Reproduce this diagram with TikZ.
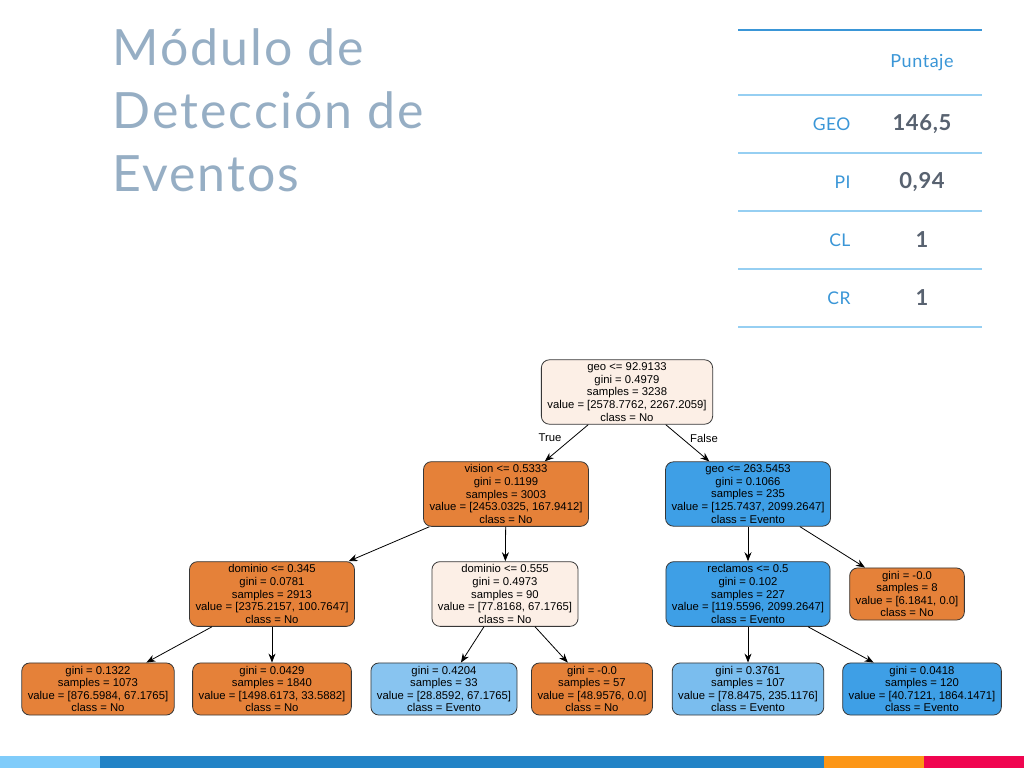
\documentclass[tikz,border=0pt]{standalone}
\usepackage{fontspec}
\usepackage{xcolor}
\usepackage{tikz}
\usetikzlibrary{positioning,arrows.meta}
\newfontfamily\treefont{Liberation Sans}
\newfontfamily\slidefont[LetterSpace=3]{Lato}
\newfontfamily\titlefont[LetterSpace=4]{Lato}
\definecolor{titlegray}{RGB}{150,174,196}
\definecolor{tablue}{RGB}{58,150,215}
\definecolor{rulelight}{RGB}{150,207,242}
\definecolor{valgray}{RGB}{88,98,112}
\definecolor{leafor}{RGB}{229,129,57}
\definecolor{peach}{RGB}{252,239,230}
\definecolor{leafbl}{RGB}{62,159,230}
\definecolor{paleblue}{RGB}{136,196,240}
\definecolor{midblue}{RGB}{122,189,238}
\definecolor{edgegray}{RGB}{55,55,55}
\definecolor{bandlight}{RGB}{128,204,250}
\definecolor{bandblue}{RGB}{34,131,198}
\definecolor{bandorange}{RGB}{252,150,22}
\definecolor{bandpink}{RGB}{240,5,80}

\begin{document}
\begin{tikzpicture}[x=1pt, y=-1pt,
  split/.style={draw=edgegray, line width=0.8pt, rounded corners=8pt,
    font=\treefont\fontsize{11.3}{12.6}\selectfont, align=center,
    inner xsep=6pt, inner ysep=3pt},
  orange/.style={split, fill=leafor},
  light/.style={split, fill=peach},
  blue/.style={split, fill=leafbl},
  arr/.style={-{Stealth[length=9pt,width=7pt]}, line width=0.8pt, black},
  rowlab/.style={font=\slidefont\fontsize{17.5}{20}\selectfont, text=tablue, anchor=east},
  rowval/.style={font=\slidefont\bfseries\fontsize{22}{26}\selectfont, text=valgray},
]
  \useasboundingbox[fill=white] (0,0) rectangle (1024,768);

  % title
  \node[font=\titlefont\fontsize{50}{63}\selectfont, text=titlegray, align=left,
    anchor=north west] (title) at (109,25) {Módulo de\\Detección de\\Eventos};

  % score table
  \draw[tablue, line width=1.6pt] (738,30) -- (982,30);
  \foreach \yy in {95,153,211,269,327}
    \draw[rulelight, line width=1.2pt] (738,\yy) -- (982,\yy);
  \node[font=\slidefont\fontsize{18}{20}\selectfont, text=tablue] (head) at (922,63) {Puntaje};
  \node[rowlab] (geo) at (854,124) {GEO};
  \node[rowval] (geov) at (922,124) {146,5};
  \node[rowlab] (pi) at (854,182) {PI};
  \node[rowval] (piv) at (922,182) {0,94};
  \node[rowlab] (cl) at (854,240) {CL};
  \node[rowval] (clv) at (922,240) {1};
  \node[rowlab] (cr) at (854,298) {CR};
  \node[rowval] (crv) at (922,298) {1};

  % decision tree
  \node[light] (root) at (627,392) {geo <= 92.9133\\gini = 0.4979\\samples = 3238\\value = [2578.7762, 2267.2059]\\class = No};
  \node[orange] (vision) at (506,494) {vision <= 0.5333\\gini = 0.1199\\samples = 3003\\value = [2453.0325, 167.9412]\\class = No};
  \node[blue] (geohi) at (748,494) {geo <= 263.5453\\gini = 0.1066\\samples = 235\\value = [125.7437, 2099.2647]\\class = Evento};
  \node[orange] (domA) at (272,594) {dominio <= 0.345\\gini = 0.0781\\samples = 2913\\value = [2375.2157, 100.7647]\\class = No};
  \node[light] (domB) at (505,594) {dominio <= 0.555\\gini = 0.4973\\samples = 90\\value = [77.8168, 67.1765]\\class = No};
  \node[blue] (recl) at (748,594) {reclamos <= 0.5\\gini = 0.102\\samples = 227\\value = [119.5596, 2099.2647]\\class = Evento};
  \node[orange] (leafE) at (907,594) {gini = -0.0\\samples = 8\\value = [6.1841, 0.0]\\class = No};
  \node[orange] (leafA) at (98,689) {gini = 0.1322\\samples = 1073\\value = [876.5984, 67.1765]\\class = No};
  \node[orange] (leafB) at (272,689) {gini = 0.0429\\samples = 1840\\value = [1498.6173, 33.5882]\\class = No};
  \node[split, fill=paleblue] (leafC) at (444,689) {gini = 0.4204\\samples = 33\\value = [28.8592, 67.1765]\\class = Evento};
  \node[orange] (leafD) at (592,689) {gini = -0.0\\samples = 57\\value = [48.9576, 0.0]\\class = No};
  \node[split, fill=midblue] (leafF) at (748,689) {gini = 0.3761\\samples = 107\\value = [78.8475, 235.1176]\\class = Evento};
  \node[blue] (leafG) at (922,689) {gini = 0.0418\\samples = 120\\value = [40.7121, 1864.1471]\\class = Evento};

  \draw[arr] (root) -- (vision);
  \draw[arr] (root) -- (geohi);
  \draw[arr] (vision) -- (domA);
  \draw[arr] (vision) -- (domB);
  \draw[arr] (geohi) -- (recl);
  \draw[arr] (geohi) -- (leafE);
  \draw[arr] (domA) -- (leafA);
  \draw[arr] (domA) -- (leafB);
  \draw[arr] (domB) -- (leafC);
  \draw[arr] (domB) -- (leafD);
  \draw[arr] (recl) -- (leafF);
  \draw[arr] (recl) -- (leafG);

  \node[font=\treefont\fontsize{11.3}{12.6}\selectfont] (truelab) at (550,438) {True};
  \node[font=\treefont\fontsize{11.3}{12.6}\selectfont] (falselab) at (704,438) {False};

  % bottom colour band
  \fill[bandlight] (0,756) rectangle (100,768);
  \fill[bandblue] (100,756) rectangle (824,768);
  \fill[bandorange] (824,756) rectangle (924,768);
  \fill[bandpink] (924,756) rectangle (1024,768);
\end{tikzpicture}
\end{document}
